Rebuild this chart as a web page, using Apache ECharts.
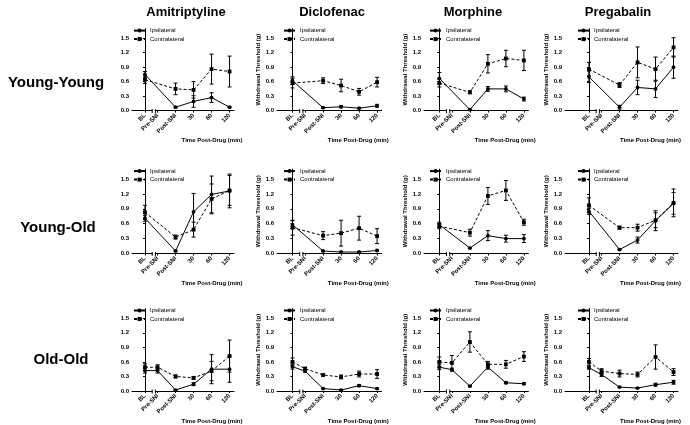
<!DOCTYPE html>
<html><head><meta charset="utf-8">
<script src="https://cdn.jsdelivr.net/npm/echarts@6/dist/echarts.min.js"></script>
<style>html,body{margin:0;padding:0;background:#fff}#c{width:690px;height:425px}</style>
</head><body><div id="c"></div>
<script>
// ---------- labels ----------
const categories = ['BL', 'Pre-SNI', 'Post-SNI', '30', '60', '120'];
const drugs = ['Amitriptyline', 'Diclofenac', 'Morphine', 'Pregabalin'];
const groups = ['Young-Young', 'Young-Old', 'Old-Old'];
const yTicks = [0, 0.3, 0.6, 0.9, 1.2, 1.5];
const seriesNames = ['Ipsilateral', 'Contralateral'];
const xTitle = 'Time Post-Drug (min)';
const yTitle = 'Withdrawal Threshold (g)';

// ---------- data (mean, SEM) ----------
// Young-Young
const amiYY_ipsi = [0.75, null, 0.07, 0.19, 0.27, 0.07];
const amiYY_ipsiErr = [0.06, null, 0.01, 0.12, 0.10, 0.01];
const amiYY_contra = [0.64, null, 0.45, 0.43, 0.86, 0.81];
const amiYY_contraErr = [0.08, null, 0.12, 0.17, 0.31, 0.32];

const dicYY_ipsi = [0.62, null, 0.06, 0.08, 0.05, 0.10];
const dicYY_ipsiErr = [0.08, null, 0.01, 0.02, 0.01, 0.03];
const dicYY_contra = [0.57, null, 0.62, 0.52, 0.39, 0.59];
const dicYY_contraErr = [0.10, null, 0.06, 0.13, 0.07, 0.10];

const morYY_ipsi = [0.67, null, 0.02, 0.45, 0.45, 0.24];
const morYY_ipsiErr = [0.12, null, 0.01, 0.05, 0.06, 0.04];
const morYY_contra = [0.57, null, 0.38, 0.97, 1.08, 1.04];
const morYY_contraErr = [0.08, null, 0.03, 0.19, 0.17, 0.21];

const preYY_ipsi = [0.70, null, 0.07, 0.48, 0.45, 0.90];
const preYY_ipsiErr = [0.12, null, 0.04, 0.15, 0.18, 0.23];
const preYY_contra = [0.86, null, 0.53, 1.00, 0.86, 1.31];
const preYY_contraErr = [0.14, null, 0.05, 0.32, 0.25, 0.20];

// Young-Old
const amiYO_ipsi = [0.71, null, 0.05, 0.84, 1.19, 1.26];
const amiYO_ipsiErr = [0.06, null, 0.01, 0.37, 0.37, 0.34];
const amiYO_contra = [0.83, null, 0.33, 0.48, 1.10, 1.27];
const amiYO_contraErr = [0.14, null, 0.04, 0.15, 0.30, 0.30];

const dicYO_ipsi = [0.58, null, 0.05, 0.03, 0.03, 0.06];
const dicYO_ipsiErr = [0.08, null, 0.01, 0.01, 0.01, 0.01];
const dicYO_contra = [0.52, null, 0.36, 0.41, 0.51, 0.35];
const dicYO_contraErr = [0.15, null, 0.08, 0.26, 0.24, 0.15];

const morYO_ipsi = [0.58, null, 0.11, 0.36, 0.30, 0.30];
const morYO_ipsiErr = [0.05, null, 0.01, 0.10, 0.07, 0.08];
const morYO_contra = [0.55, null, 0.42, 1.16, 1.27, 0.63];
const morYO_contraErr = [0.05, null, 0.07, 0.17, 0.20, 0.06];

const preYO_ipsi = [0.85, null, 0.08, 0.27, 0.66, 1.01];
const preYO_ipsiErr = [0.06, null, 0.01, 0.06, 0.20, 0.22];
const preYO_contra = [0.97, null, 0.52, 0.52, 0.67, 1.02];
const preYO_contraErr = [0.15, null, 0.03, 0.07, 0.15, 0.28];

// Old-Old
const amiOO_ipsi = [0.42, 0.42, 0.02, 0.14, 0.45, 0.45];
const amiOO_ipsiErr = [0.05, 0.05, 0.01, 0.03, 0.30, 0.27];
const amiOO_contra = [0.49, 0.49, 0.30, 0.27, 0.41, 0.72];
const amiOO_contraErr = [0.07, 0.05, 0.03, 0.03, 0.20, 0.33];

const dicOO_ipsi = [0.50, 0.41, 0.05, 0.02, 0.11, 0.05];
const dicOO_ipsiErr = [0.05, 0.03, 0.01, 0.01, 0.02, 0.01];
const dicOO_contra = [0.60, 0.46, 0.33, 0.29, 0.35, 0.35];
const dicOO_contraErr = [0.08, 0.03, 0.02, 0.04, 0.06, 0.09];

const morOO_ipsi = [0.49, 0.44, 0.10, 0.49, 0.17, 0.15];
const morOO_ipsiErr = [0.05, 0.03, 0.01, 0.04, 0.02, 0.02];
const morOO_contra = [0.60, 0.58, 1.01, 0.55, 0.55, 0.71];
const morOO_contraErr = [0.10, 0.15, 0.21, 0.06, 0.08, 0.10];

const preOO_ipsi = [0.48, 0.34, 0.08, 0.06, 0.13, 0.18];
const preOO_ipsiErr = [0.03, 0.04, 0.01, 0.01, 0.03, 0.04];
const preOO_contra = [0.60, 0.41, 0.36, 0.34, 0.70, 0.39];
const preOO_contraErr = [0.07, 0.05, 0.07, 0.05, 0.25, 0.07];

const panels = [
  [[amiYY_ipsi, amiYY_ipsiErr, amiYY_contra, amiYY_contraErr],
   [dicYY_ipsi, dicYY_ipsiErr, dicYY_contra, dicYY_contraErr],
   [morYY_ipsi, morYY_ipsiErr, morYY_contra, morYY_contraErr],
   [preYY_ipsi, preYY_ipsiErr, preYY_contra, preYY_contraErr]],
  [[amiYO_ipsi, amiYO_ipsiErr, amiYO_contra, amiYO_contraErr],
   [dicYO_ipsi, dicYO_ipsiErr, dicYO_contra, dicYO_contraErr],
   [morYO_ipsi, morYO_ipsiErr, morYO_contra, morYO_contraErr],
   [preYO_ipsi, preYO_ipsiErr, preYO_contra, preYO_contraErr]],
  [[amiOO_ipsi, amiOO_ipsiErr, amiOO_contra, amiOO_contraErr],
   [dicOO_ipsi, dicOO_ipsiErr, dicOO_contra, dicOO_contraErr],
   [morOO_ipsi, morOO_ipsiErr, morOO_contra, morOO_contraErr],
   [preOO_ipsi, preOO_ipsiErr, preOO_contra, preOO_contraErr]]
];

// ---------- layout ----------
const FONT = '"Liberation Sans", Arial, sans-serif';
const catPos = [0, 0.7, 1.7, 2.7, 3.7, 4.7];   // axis-scale position of each category
const breakRange = [0.4, 0.58];                // x-axis break between BL and Pre-SNI
const xMaxV = 4.95;
const unit = 18;
const colLeft = [132, 277, 424, 565];
const colXMin = [-0.72, -0.86, -0.85, -1.33];
const legOff = [1, 6, 5, 12];
const rowTop = [28.6, 169.1, 308.5];
const rowH = [82, 84.4, 83.2];
const colTitleX = [186, 332, 473, 618];
const rowLabelX = [56, 58, 61];
const rowLabelY = [83, 228, 360];

function catLabel(v) {
  for (let i = 0; i < catPos.length; i++) if (Math.abs(catPos[i] - v) < 1e-6) return categories[i];
  return '';
}

const grid = [], xAxis = [], yAxis = [], series = [], legend = [], graphic = [];
let gi = 0;
for (let r = 0; r < 3; r++) {
  for (let c = 0; c < 4; c++) {
    const w = (xMaxV - colXMin[c]) * unit;
    grid.push({ left: colLeft[c], top: rowTop[r], width: w, height: rowH[r] });
    xAxis.push({
      type: 'value', gridIndex: gi, min: colXMin[c], max: xMaxV,
      name: xTitle, nameLocation: 'middle', nameGap: 27,
      nameTextStyle: { fontFamily: FONT, fontWeight: 'bold', fontSize: 6, color: '#000', padding: [0, 0, 0, 58] },
      splitLine: { show: false },
      axisLine: { lineStyle: { color: '#000', width: 1 } },
      axisTick: { customValues: catPos, length: 2, lineStyle: { color: '#000' } },
      axisLabel: { customValues: catPos, formatter: catLabel, rotate: 45, fontFamily: FONT, fontWeight: 'bold', fontSize: 6, color: '#000', margin: 4 }
    });
    yAxis.push({
      type: 'value', gridIndex: gi, min: 0, max: 1.7,
      name: c === 0 ? '' : yTitle, nameLocation: 'middle', nameGap: 13,
      nameTextStyle: { fontFamily: FONT, fontWeight: 'bold', fontSize: 6, color: '#000' },
      splitLine: { show: false },
      axisLine: { show: true, lineStyle: { color: '#000', width: 1 } },
      axisTick: { show: true, customValues: yTicks, length: 2, lineStyle: { color: '#000' } },
      axisLabel: { customValues: yTicks, formatter: v => v.toFixed(1), fontFamily: FONT, fontWeight: 'bold', fontSize: 6, color: '#000', margin: 3 }
    });
    const [ipsi, ipsiErr, contra, contraErr] = panels[r][c];
    const sets = [[ipsi, ipsiErr, 'circle', 'solid'], [contra, contraErr, 'rect', [3, 2]]];
    sets.forEach(([vals, errs, sym, lt], k) => {
      series.push({
        name: seriesNames[k], type: 'line', xAxisIndex: gi, yAxisIndex: gi,
        data: vals.map((v, i) => v == null ? null : [catPos[i], v]).filter(Boolean),
        symbol: sym, symbolSize: 3.8, showSymbol: true,
        lineStyle: { color: '#000', width: 1, type: lt },
        itemStyle: { color: '#000' },
        animation: false, z: 3
      });
      series.push({
        name: seriesNames[k] + ' SEM', type: 'custom', xAxisIndex: gi, yAxisIndex: gi,
        data: vals.map((v, i) => (v == null || errs[i] == null) ? null : [catPos[i], v - errs[i], v + errs[i]]).filter(Boolean),
        encode: { x: 0, y: [1, 2] },
        renderItem: (params, api) => {
          const x = api.value(0);
          const p1 = api.coord([x, api.value(2)]);
          const p2 = api.coord([x, api.value(1)]);
          const hw = 2;
          const st = { stroke: '#000', lineWidth: 1 };
          return { type: 'group', children: [
            { type: 'line', shape: { x1: p1[0], y1: p1[1], x2: p2[0], y2: p2[1] }, style: st },
            { type: 'line', shape: { x1: p1[0] - hw, y1: p1[1], x2: p1[0] + hw, y2: p1[1] }, style: st },
            { type: 'line', shape: { x1: p2[0] - hw, y1: p2[1], x2: p2[0] + hw, y2: p2[1] }, style: st }
          ]};
        },
        animation: false, z: 2
      });
    });
    // axis break marks
    series.push({
      name: 'axis break', type: 'custom', xAxisIndex: gi, yAxisIndex: gi,
      data: [[breakRange[0], breakRange[1], 0]],
      encode: { x: [0, 1], y: 2 },
      silent: true, clip: false,
      renderItem: (params, api) => {
        const a = api.coord([api.value(0), 0]);
        const b = api.coord([api.value(1), 0]);
        const st = { stroke: '#000', lineWidth: 1 };
        return { type: 'group', children: [
          { type: 'rect', shape: { x: a[0] + 0.5, y: a[1] - 1.5, width: b[0] - a[0] - 1, height: 3 }, style: { fill: '#fff' } },
          { type: 'line', shape: { x1: a[0], y1: a[1] - 1.5, x2: a[0], y2: a[1] + 2.5 }, style: st },
          { type: 'line', shape: { x1: b[0], y1: b[1] - 1.5, x2: b[0], y2: b[1] + 2.5 }, style: st }
        ]};
      },
      animation: false, z: 1
    });
    legend.push({
      data: seriesNames, orient: 'vertical', left: colLeft[c] + legOff[c], top: rowTop[r] - 1,
      itemWidth: 11, itemHeight: 5, itemGap: 2.5, padding: 0, selectedMode: false,
      textStyle: { fontFamily: FONT, fontSize: 6, color: '#000' }
    });
    gi++;
  }
}

drugs.forEach((d, c) => graphic.push({
  type: 'text', x: colTitleX[c], y: 12,
  style: { text: d, font: 'bold 13px ' + FONT, fill: '#000', textAlign: 'center', textVerticalAlign: 'middle' }
}));
groups.forEach((g, r) => graphic.push({
  type: 'text', x: rowLabelX[r], y: rowLabelY[r],
  style: { text: g, font: 'bold 15px ' + FONT, fill: '#000', textAlign: 'center', textVerticalAlign: 'middle' }
}));

const chart = echarts.init(document.getElementById('c'), null, { renderer: 'canvas' });
chart.setOption({ animation: false, backgroundColor: '#fff', grid, xAxis, yAxis, series, legend, graphic });
</script>
</body></html>
